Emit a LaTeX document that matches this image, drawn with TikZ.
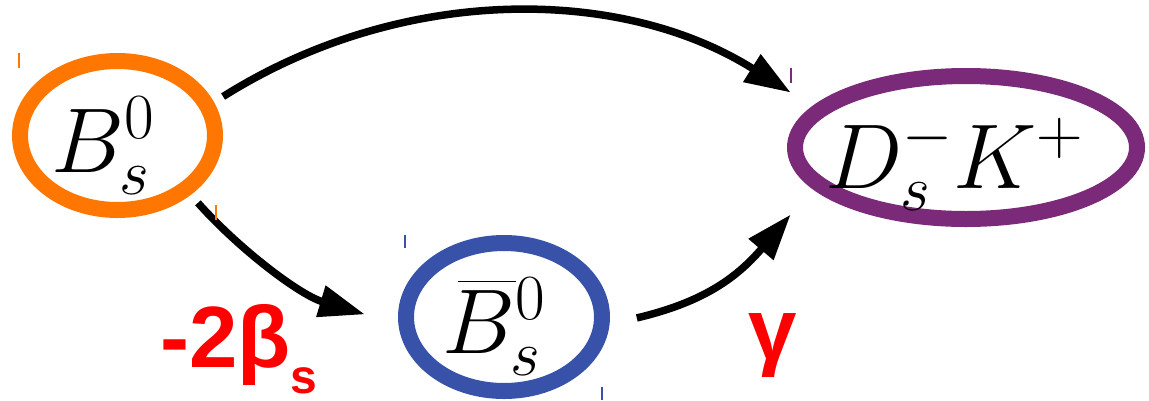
\RequirePackage{fix-cm}
\documentclass[tikz,border=0pt]{standalone}
\usepackage{fontspec}
\newfontfamily\lsans{Liberation Sans}
\usetikzlibrary{shapes.geometric,arrows.meta}
\definecolor{borange}{RGB}{255,119,0}
\definecolor{bblue}{RGB}{55,82,168}
\definecolor{bpurple}{RGB}{123,41,121}
\definecolor{lred}{RGB}{255,0,0}
\begin{document}
\begin{tikzpicture}[x=1pt,y=-1pt,
  particle/.style={ellipse, draw, line width=16pt, inner sep=0pt},
  conn/.style={draw=black, line width=7.5pt, -{Triangle[length=46pt,width=31pt]}},
  mathlbl/.style={inner sep=0pt, anchor=base west, font=\fontsize{92}{100}\selectfont},
  phase/.style={inner sep=0pt, anchor=base west, text=lred, font=\lsans\bfseries\fontsize{87}{90}\selectfont},
  tick/.style={line width=1.2pt}]
\useasboundingbox (0,0) rectangle (1149,400);
% particle ellipses
\node[particle, draw=borange, minimum width=195pt, minimum height=149pt] (bs) at (117.5,135.5) {};
\node[particle, draw=bblue, minimum width=196pt, minimum height=148pt] (bb) at (504,317) {};
\node[particle, draw=bpurple, minimum width=342pt, minimum height=143pt] (dk) at (966,147.5) {};
% particle names
\node[mathlbl] (tbs) at (51,172) {$B_s^0$};
\node[mathlbl] (tbb) at (442,353) {\rlap{$\mkern3mu\overline{\vphantom{\rule{0pt}{0.76em}}\mkern11.5mu}$}$B_s^0$};
\node[mathlbl] (tdk) at (825,188) {$D_s^-K^+$};
% phases
\node[phase] (l1) at (160,367) {-2β{\fontsize{48}{48}\selectfont\raisebox{-26pt}{s}}};
\node[phase] (l2) at (748,359) {γ};
% connectors
\draw[conn, shorten <=10.7pt, shorten >=26pt] (bs.19) .. controls (400,-15) and (620,-15) .. (dk.165);
\draw[conn, shorten <=10.7pt, shorten >=35pt] (bs.-39) .. controls (240,250) and (300,295) .. (bb.184);
\draw[conn, shorten <=28pt, shorten >=34pt] (bb.-4) .. controls (700,303) and (735,280) .. (dk.195);
% small corner ticks
\draw[tick, borange] (19,53) -- (19,68);
\draw[tick, borange] (216,205) -- (216,220);
\draw[tick, bblue] (405,235) -- (405,248);
\draw[tick, bblue] (602,387) -- (602,400);
\draw[tick, bpurple] (791,68) -- (791,83);
\end{tikzpicture}
\end{document}
